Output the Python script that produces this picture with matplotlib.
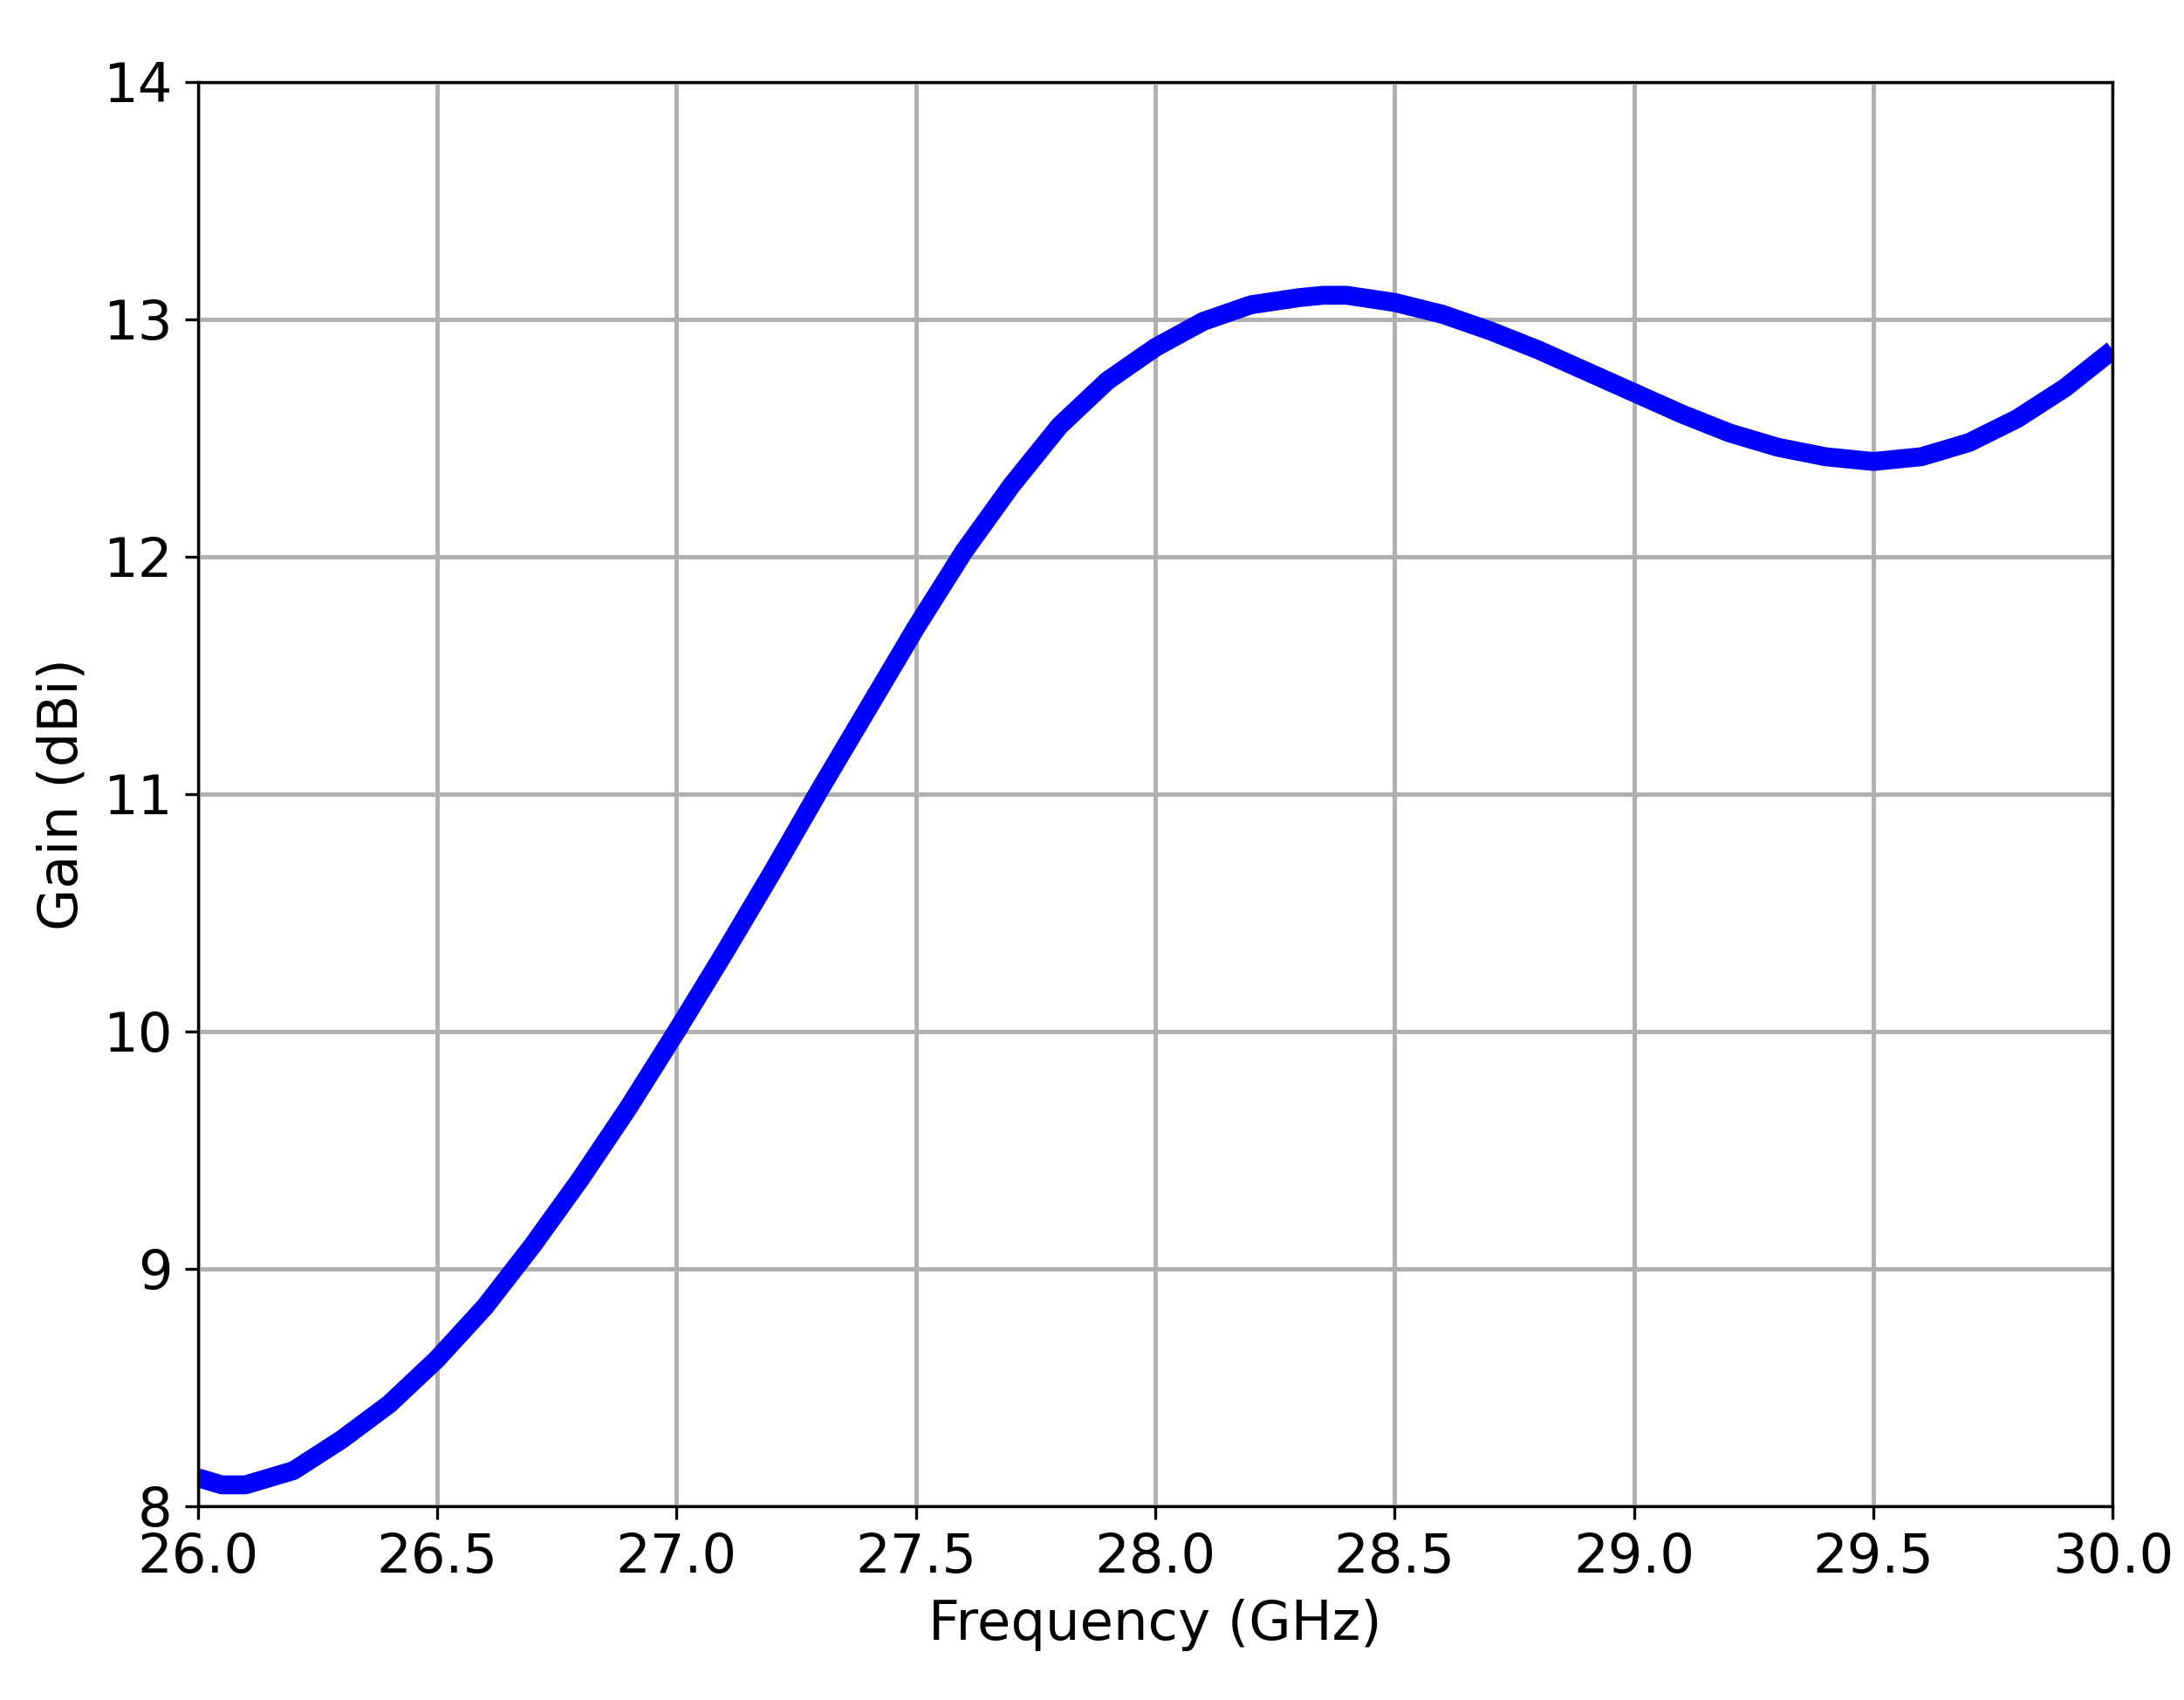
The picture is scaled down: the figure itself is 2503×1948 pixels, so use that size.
import matplotlib
matplotlib.use("Agg")
import matplotlib.pyplot as plt

freq = [26.0, 26.05, 26.1, 26.2, 26.3, 26.4, 26.5, 26.6, 26.7, 26.8, 26.9, 27.0, 27.1, 27.2, 27.3, 27.4, 27.5,
        27.6, 27.7, 27.8, 27.9, 28.0, 28.1, 28.2, 28.3, 28.35, 28.4, 28.5, 28.6, 28.7, 28.8, 28.9, 29.0,
        29.1, 29.2, 29.3, 29.4, 29.5, 29.6, 29.7, 29.8, 29.9, 30.0]
gain = [8.12, 8.09, 8.09, 8.15, 8.28, 8.43, 8.62, 8.84, 9.1, 9.38, 9.68, 10.0, 10.33, 10.67, 11.02, 11.36, 11.7,
        12.02, 12.3, 12.55, 12.74, 12.88, 12.99, 13.06, 13.09, 13.1, 13.1, 13.07, 13.02, 12.95, 12.87, 12.78, 12.69,
        12.6, 12.52, 12.46, 12.42, 12.4, 12.42, 12.48, 12.58, 12.71, 12.87]

fig = plt.figure(figsize=(2504/300, 1948/300), dpi=300)
ax = fig.add_axes([0.0905, 0.114, 0.8765, 0.838])
ax.plot(freq, gain, color="blue", lw=5.2, solid_capstyle="butt", solid_joinstyle="round")
ax.set_xlim(26, 30)
ax.set_ylim(8, 14)
ax.set_xticks([26.0, 26.5, 27.0, 27.5, 28.0, 28.5, 29.0, 29.5, 30.0])
ax.set_xticklabels(["26.0", "26.5", "27.0", "27.5", "28.0", "28.5", "29.0", "29.5", "30.0"])
ax.set_yticks([8, 9, 10, 11, 12, 13, 14])
ax.grid(True, color="#b0b0b0", lw=1.2)
ax.tick_params(labelsize=15)
ax.set_xlabel("Frequency (GHz)", fontsize=15)
ax.set_ylabel("Gain (dBi)", fontsize=15)
fig.savefig("out.png", dpi=300)
